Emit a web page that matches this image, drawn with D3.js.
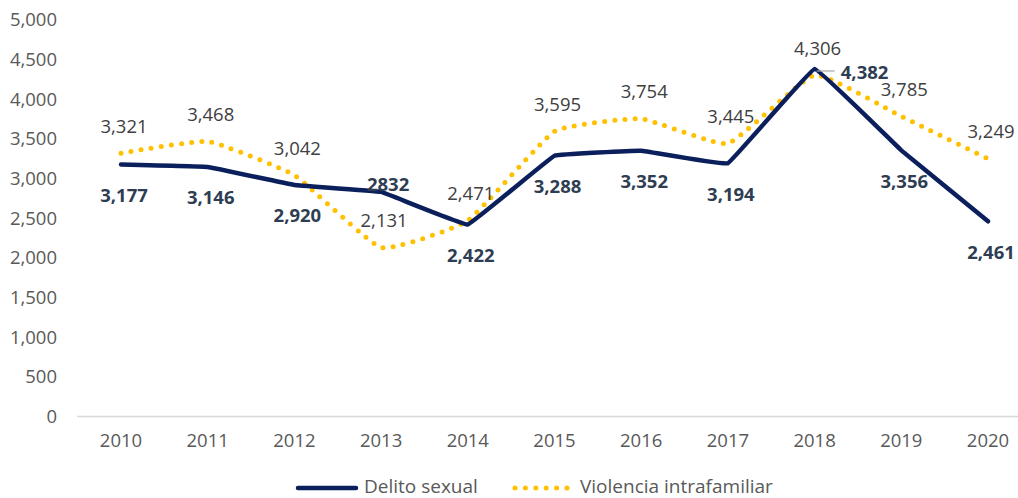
<!DOCTYPE html>
<html>
<head>
<meta charset="utf-8">
<script src="https://cdn.jsdelivr.net/npm/d3@7"></script>
<style>
  body { margin: 0; background: #fff; }
  svg { display: block; font-family: "Open Sans", sans-serif; }
</style>
</head>
<body>
<div id="chart"></div>
<script>
// Datos
const years = [2010, 2011, 2012, 2013, 2014, 2015, 2016, 2017, 2018, 2019, 2020];
const delitoSexual = [3177, 3146, 2920, 2832, 2422, 3288, 3352, 3194, 4382, 3356, 2461];
const violencia = [3321, 3468, 3042, 2131, 2471, 3595, 3754, 3445, 4306, 3785, 3249];
const yTicks = [0, 500, 1000, 1500, 2000, 2500, 3000, 3500, 4000, 4500, 5000];

const width = 1018;
const height = 498;

const svg = d3.select("#chart")
  .append("svg")
  .attr("width", width)
  .attr("height", height);

const x = d3.scalePoint()
  .domain(years)
  .range([121, 988]);

const y = d3.scaleLinear()
  .domain([0, 5000])
  .range([416.5, 20]);

const fmt = d3.format(",");

// Eje Y (solo etiquetas)
svg.append("g")
  .selectAll("text")
  .data(yTicks)
  .join("text")
  .attr("x", 57)
  .attr("y", d => y(d))
  .attr("dy", "0.35em")
  .attr("text-anchor", "end")
  .style("font-size", "18.5px")
  .style("fill", "#595959")
  .text(d => fmt(d));

// Línea base
svg.append("line")
  .attr("x1", 77)
  .attr("x2", 1018)
  .attr("y1", y(0))
  .attr("y2", y(0))
  .attr("stroke", "#d9d9d9")
  .attr("stroke-width", 1.5);

// Eje X
svg.append("g")
  .selectAll("text")
  .data(years)
  .join("text")
  .attr("x", d => x(d))
  .attr("y", 441)
  .attr("dy", "0.35em")
  .attr("text-anchor", "middle")
  .style("font-size", "18.5px")
  .style("fill", "#595959")
  .text(d => d);

const lineDelito = d3.line()
  .x((d, i) => x(years[i]))
  .y(d => y(d))
  .curve(d3.curveCardinal.tension(0.85));

const lineViol = d3.line()
  .x((d, i) => x(years[i]))
  .y(d => y(d))
  .curve(d3.curveCardinal.tension(0.6));

// Violencia intrafamiliar (punteada)
svg.append("path")
  .datum(violencia)
  .attr("d", lineViol)
  .attr("fill", "none")
  .attr("stroke", "#FFC000")
  .attr("stroke-width", 5)
  .attr("stroke-linecap", "round")
  .attr("stroke-dasharray", "0 10.2");

// Delito sexual
svg.append("path")
  .datum(delitoSexual)
  .attr("d", lineDelito)
  .attr("fill", "none")
  .attr("stroke", "#0a1f5c")
  .attr("stroke-width", 4.5)
  .attr("stroke-linecap", "round")
  .attr("stroke-linejoin", "round");

// Etiquetas violencia (encima)
svg.append("g")
  .selectAll("text")
  .data(violencia)
  .join("text")
  .attr("x", (d, i) => x(years[i]) + 3)
  .attr("y", d => y(d) - 27)
  .attr("dy", "0.35em")
  .attr("text-anchor", "middle")
  .style("font-size", "18.5px")
  .style("fill", "#404040")
  .text(d => fmt(d));

// Etiquetas delito sexual (debajo)
const delitoLabel = (d, i) => {
  const yr = years[i];
  if (yr === 2013) return { dx: 7, dy: -7, txt: String(d) };
  if (yr === 2018) return { dx: 50, dy: 4, txt: fmt(d) };
  return { dx: 3, dy: 31, txt: fmt(d) };
};

svg.append("g")
  .selectAll("text")
  .data(delitoSexual)
  .join("text")
  .attr("x", (d, i) => x(years[i]) + delitoLabel(d, i).dx)
  .attr("y", (d, i) => y(d) + delitoLabel(d, i).dy)
  .attr("dy", "0.35em")
  .attr("text-anchor", "middle")
  .style("font-size", "18.5px")
  .style("font-weight", "bold")
  .style("fill", "#2e3d52")
  .text((d, i) => delitoLabel(d, i).txt);

// Línea guía etiqueta 2018
const i18 = years.indexOf(2018);
svg.append("line")
  .attr("x1", x(2018) + 2)
  .attr("x2", x(2018) + 20)
  .attr("y1", y(delitoSexual[i18]) + 2)
  .attr("y2", y(delitoSexual[i18]) + 2)
  .attr("stroke", "#a6a6a6")
  .attr("stroke-width", 1.2);

// Leyenda
const legend = svg.append("g");
legend.append("line")
  .attr("x1", 298).attr("x2", 356)
  .attr("y1", 488).attr("y2", 488)
  .attr("stroke", "#0a1f5c")
  .attr("stroke-width", 4.5)
  .attr("stroke-linecap", "round");
legend.append("text")
  .attr("x", 364).attr("y", 486)
  .attr("dy", "0.35em")
  .style("font-size", "19px")
  .style("fill", "#595959")
  .text("Delito sexual");
legend.append("line")
  .attr("x1", 515).attr("x2", 567)
  .attr("y1", 488).attr("y2", 488)
  .attr("stroke", "#FFC000")
  .attr("stroke-width", 5)
  .attr("stroke-linecap", "round")
  .attr("stroke-dasharray", "0 10.4");
legend.append("text")
  .attr("x", 580).attr("y", 486)
  .attr("dy", "0.35em")
  .style("font-size", "19px")
  .style("fill", "#595959")
  .text("Violencia intrafamiliar");
</script>
</body>
</html>
